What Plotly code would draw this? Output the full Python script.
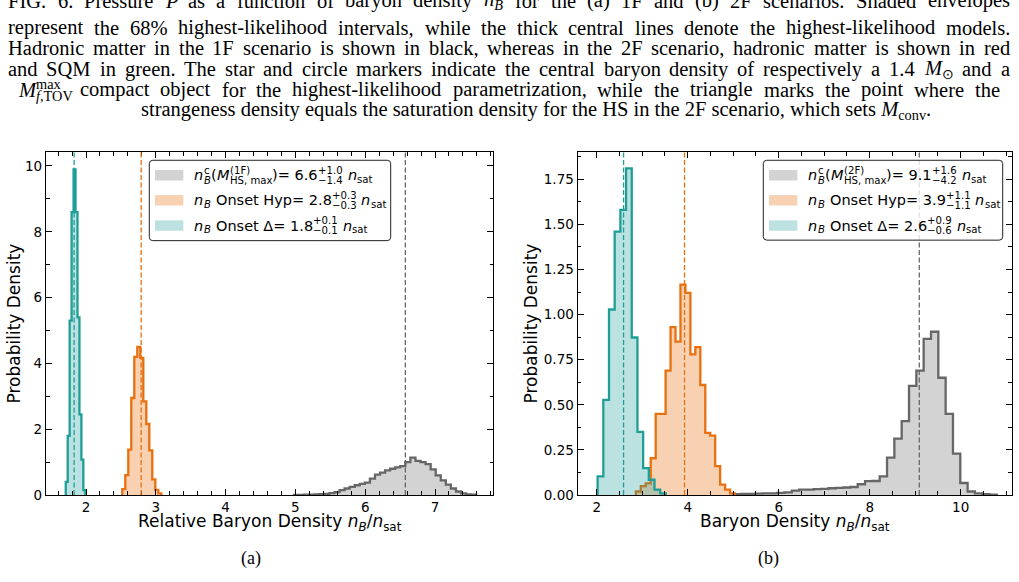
import re
import numpy as np
import plotly.graph_objects as go

W, H = 1019, 582

# ---------------- data: panel (a) 1F scenario ----------------
a_hs_bin_start, a_hs_bin_width = 4.98, 0.0725
a_hs_density = [0.005, 0.008, 0.01, 0.015, 0.02, 0.03, 0.04, 0.06, 0.09, 0.15,
                0.2, 0.25, 0.3, 0.34, 0.38, 0.5, 0.62, 0.68, 0.75, 0.8,
                0.84, 0.88, 1.0, 1.14, 1.04, 1.0, 0.94, 0.78, 0.6, 0.45,
                0.32, 0.2, 0.11, 0.05, 0.02, 0.01]
a_hyp_bin_start, a_hyp_bin_width = 2.52, 0.043
a_hyp_density = [0.18, 0.61, 1.38, 2.95, 4.2, 4.5, 4.17, 2.85, 2.16, 1.36, 0.48, 0.16, 0.05]
a_delta_bin_start, a_delta_bin_width = 1.71, 0.028
a_delta_density = [0.4, 1.8, 5.3, 8.6, 9.9, 8.6, 5.4, 2.45, 1.08, 0.15]
a_median_hs, a_median_hyp, a_median_delta = 6.575, 2.79, 1.83

# ---------------- data: panel (b) 2F scenario ----------------
b_hs_bin_start, b_hs_bin_width = 5.0, 0.161
b_hs_density = [0.005, 0.006, 0.007, 0.008, 0.01, 0.01, 0.012, 0.015, 0.025, 0.03,
                0.03, 0.033, 0.035, 0.038, 0.04, 0.042, 0.045, 0.06, 0.077, 0.078,
                0.104, 0.208, 0.313, 0.41, 0.605, 0.69, 0.865, 0.905, 0.65, 0.45,
                0.23, 0.067, 0.02, 0.01, 0.005, 0.002]
b_hyp_bin_start, b_hyp_bin_width = 2.86, 0.109
b_hyp_density = [0.02, 0.05, 0.065, 0.204, 0.45, 0.45, 0.69, 0.93, 0.85, 1.166,
                 1.12, 0.78, 0.82, 0.61, 0.345, 0.33, 0.16, 0.058, 0.03, 0.01]
b_delta_bin_start, b_delta_bin_width = 2.02, 0.125
b_delta_density = [0.104, 0.528, 1.028, 1.46, 1.58, 1.81, 0.873, 0.35, 0.149, 0.085, 0.03, 0.01]
b_median_hs, b_median_hyp, b_median_delta = 9.09, 3.93, 2.59

a_x_ticks = [2, 3, 4, 5, 6, 7]
a_y_ticks = [0, 2, 4, 6, 8, 10]
b_x_ticks = [2, 4, 6, 8, 10]
b_y_ticks = [0.0, 0.25, 0.5, 0.75, 1.0, 1.25, 1.5, 1.75]

a_legend_values = [("6.6", "+1.0", "−1.4"), ("2.8", "+0.3", "−0.3"), ("1.8", "+0.1", "−0.1")]
b_legend_values = [("9.1", "+1.6", "−4.2"), ("3.9", "+1.1", "−1.1"), ("2.6", "+0.9", "−0.6")]

# ---------------- styles ----------------
GRAY_LINE, GRAY_FILL = "#666666", "rgba(128,128,128,0.35)"
ORNG_LINE, ORNG_FILL = "#e8700f", "rgba(232,112,15,0.32)"
TEAL_LINE, TEAL_FILL = "#1f9e98", "rgba(31,158,152,0.3)"
SANS = "DejaVu Sans"
SERIF = "Liberation Serif"


def step_xy(start, width, dens):
    edges = start + width * np.arange(len(dens) + 1)
    x = np.concatenate([[edges[0]], edges])
    y = np.concatenate([[0.0], np.asarray(dens, float), [0.0]])
    return x, y


fig = go.Figure()

panels = [
    ("x", "y", [(a_hs_bin_start, a_hs_bin_width, a_hs_density, GRAY_LINE, GRAY_FILL),
                (a_hyp_bin_start, a_hyp_bin_width, a_hyp_density, ORNG_LINE, ORNG_FILL),
                (a_delta_bin_start, a_delta_bin_width, a_delta_density, TEAL_LINE, TEAL_FILL)],
     [(a_median_hs, GRAY_LINE), (a_median_hyp, ORNG_LINE), (a_median_delta, TEAL_LINE)]),
    ("x2", "y2", [(b_hs_bin_start, b_hs_bin_width, b_hs_density, GRAY_LINE, GRAY_FILL),
                  (b_hyp_bin_start, b_hyp_bin_width, b_hyp_density, ORNG_LINE, ORNG_FILL),
                  (b_delta_bin_start, b_delta_bin_width, b_delta_density, TEAL_LINE, TEAL_FILL)],
     [(b_median_hs, GRAY_LINE), (b_median_hyp, ORNG_LINE), (b_median_delta, TEAL_LINE)]),
]

shapes = []
for xa, ya, hists, meds in panels:
    for start, width, dens, lc, fc in hists:
        x, y = step_xy(start, width, dens)
        fig.add_trace(go.Scatter(x=x, y=y, xaxis=xa, yaxis=ya, mode="lines",
                                 line=dict(color=lc, width=2.3, shape="hv"),
                                 fill="tozeroy", fillcolor=fc, hoverinfo="skip",
                                 showlegend=False))
    for m, c in meds:
        shapes.append(dict(type="line", xref=xa, yref=ya + " domain", x0=m, x1=m, y0=0, y1=1,
                           line=dict(color=c, width=1.3, dash="5px,2.5px")))


def P(x, y):
    return x / W, 1 - y / H


annotations = []


def ann(x, y, text, size, family=SANS, xanchor="left", yanchor="middle", angle=0):
    xp, yp = P(x, y)
    annotations.append(dict(x=xp, y=yp, xref="paper", yref="paper", text=text,
                            showarrow=False, xanchor=xanchor, yanchor=yanchor,
                            font=dict(family=family, size=size, color="black"),
                            borderpad=0, borderwidth=0, textangle=angle))


# DejaVu Sans advance widths (units per 2048 em)
CW = {' ': 651, '(': 799, ')': 799, '+': 1716, ',': 651, '-': 739, '.': 651, '/': 690,
      '=': 1716, 'B': 1405, 'D': 1577, 'F': 1178, 'H': 1540, 'M': 1767, 'O': 1612,
      'S': 1300, 'a': 1255, 'c': 1126, 'e': 1260, 'm': 1995, 'n': 1298, 'p': 1300,
      's': 1067, 't': 803, 'x': 1212, 'y': 1212, 'Δ': 1405, '−': 1716}
for d in "0123456789":
    CW[d] = 1303


def sw(s, size):
    return sum(CW.get(c, 1250) for c in s) / 2048 * size


SUP_DY, SUB_DY, NSUB_DY = -5.0, 5.2, 4.0


def legend_row(x0, yc, items, fs):
    ss = fs * 0.7
    x = x0
    for it in items:
        k = it[0]
        if k == "m":
            t = it[1]
            ann(x, yc, "<i>%s</i>" % t if it[2] else t, fs)
            x += sw(t, fs)
        elif k == "sub":
            t = it[1]
            ann(x + 0.5, yc + NSUB_DY, "<i>%s</i>" % t if it[2] else t, ss)
            x += sw(t, ss) + 0.5
        elif k == "stack":
            sup, sub = it[1], it[2]
            ann(x + 0.5, yc + SUP_DY, "<i>%s</i>" % sup if it[3] else sup, ss)
            ann(x + 0.5, yc + SUB_DY, "<i>%s</i>" % sub if it[4] else sub, ss)
            x += max(sw(sup, ss), sw(sub, ss)) + 0.5
        elif k == "gap":
            x += it[1] * fs


def rrect(x0, y0, x1, y1, r):
    def p(x, y):
        a, b = P(x, y)
        return "%.6f,%.6f" % (a, b)
    return ("M %s L %s Q %s %s L %s Q %s %s L %s Q %s %s L %s Q %s %s Z" % (
        p(x0 + r, y0), p(x1 - r, y0), p(x1, y0), p(x1, y0 + r), p(x1, y1 - r),
        p(x1, y1), p(x1 - r, y1), p(x0 + r, y1), p(x0, y1), p(x0, y1 - r),
        p(x0, y0 + r), p(x0, y0), p(x0 + r, y0)))


def draw_legend(bx0, by0, bx1, by1, tag, vals):
    shapes.append(dict(type="path", xref="paper", yref="paper", path=rrect(bx0, by0, bx1, by1, 3.5),
                       fillcolor="rgba(255,255,255,0.8)", line=dict(color="#222222", width=1)))
    rows = [by0 + 15.2, by0 + 40.6, by0 + 66.2]
    fills = [GRAY_FILL, ORNG_FILL, TEAL_FILL]
    fs = 14.5
    for yc, fc in zip(rows, fills):
        a0, b0 = P(bx0 + 5.7, yc - 5.3)
        a1, b1 = P(bx0 + 34.0, yc + 5.3)
        shapes.append(dict(type="rect", xref="paper", yref="paper", x0=a0, x1=a1, y0=b0, y1=b1,
                           fillcolor=fc, line=dict(width=0)))
    tx = bx0 + 45.0
    v = vals[0]
    legend_row(tx, rows[0], [("m", "n", 1), ("stack", "c", "B", 0, 1), ("m", "(", 0), ("m", "M", 1),
                             ("stack", tag, "HS, max", 0, 0), ("m", ")= " + v[0], 0),
                             ("stack", v[1], v[2], 0, 0), ("gap", 0.32), ("m", "n", 1),
                             ("sub", "sat", 0)], fs)
    v = vals[1]
    legend_row(tx, rows[1], [("m", "n", 1), ("sub", "B", 1), ("gap", 0.32),
                             ("m", "Onset Hyp= " + v[0], 0), ("stack", v[1], v[2], 0, 0),
                             ("gap", 0.32), ("m", "n", 1), ("sub", "sat", 0)], fs)
    v = vals[2]
    legend_row(tx, rows[2], [("m", "n", 1), ("sub", "B", 1), ("gap", 0.32),
                             ("m", "Onset Δ= " + v[0], 0), ("stack", v[1], v[2], 0, 0),
                             ("gap", 0.32), ("m", "n", 1), ("sub", "sat", 0)], fs)


draw_legend(149.3, 162.5, 390.7, 244.0, "(1F)", a_legend_values)
draw_legend(763.3, 162.5, 1002.7, 243.5, "(2F)", b_legend_values)

# axis titles
NB = "<i>n</i><sub><i>B</i></sub>/<i>n</i><sub>sat</sub>"
ann(269.5, 530, "Relative Baryon Density " + NB, 17, xanchor="center")
ann(795, 530, "Baryon Density " + NB, 17, xanchor="center")
ann(14, 328, "Probability Density", 17, xanchor="center", angle=-90)
ann(531, 328, "Probability Density", 17, xanchor="center", angle=-90)
ann(251, 566, "(a)", 18, family=SERIF, xanchor="center")
ann(768, 566, "(b)", 18, family=SERIF, xanchor="center")

# ---------------- caption (justified, Times metrics) ----------------
TW = {'a': 444, 'b': 500, 'c': 444, 'd': 500, 'e': 444, 'f': 333, 'g': 500, 'h': 500,
      'i': 278, 'j': 278, 'k': 500, 'l': 278, 'm': 778, 'n': 500, 'o': 500, 'p': 500,
      'q': 500, 'r': 333, 's': 389, 't': 278, 'u': 500, 'v': 500, 'w': 722, 'x': 500,
      'y': 500, 'z': 444, 'A': 722, 'B': 667, 'C': 667, 'D': 722, 'E': 611, 'F': 556,
      'G': 722, 'H': 722, 'I': 333, 'J': 389, 'K': 722, 'L': 611, 'M': 889, 'N': 722,
      'O': 722, 'P': 556, 'Q': 722, 'R': 667, 'S': 556, 'T': 611, 'U': 722, 'V': 722,
      'W': 944, 'X': 722, 'Y': 722, 'Z': 611, ' ': 250, ',': 250, '.': 250, '-': 333,
      '%': 833, '(': 333, ')': 333, '⊙': 800}
for d in "0123456789":
    TW[d] = 500


def tw(html, size):
    total, scale, st = 0.0, 1.0, []
    for t in re.split(r"(<[^>]+>)", html):
        if t.startswith("<"):
            if t in ("<sub>", "<sup>"):
                st.append(scale)
                scale *= 0.7
            elif t in ("</sub>", "</sup>"):
                scale = st.pop()
            continue
        for c in t:
            total += TW.get(c, 500) * scale
    return total / 1000 * size


CAP_FS = 20.5


def justify(line, x0, x1, yc):
    words = line.split(" ")
    ws = [tw(w, CAP_FS) for w in words]
    gap = (x1 - x0 - sum(ws)) / max(len(words) - 1, 1)
    gap = max(gap, 0.2 * CAP_FS)
    x = x0
    for w, wd in zip(words, ws):
        ann(x, yc, w, CAP_FS, family=SERIF)
        x += wd + gap


cap = [
    "FIG. 6. Pressure <i>P</i> as a function of baryon density <i>n</i><sub><i>B</i></sub> for the (a) 1F and (b) 2F scenarios. Shaded envelopes",
    "represent the 68% highest-likelihood intervals, while the thick central lines denote the highest-likelihood models.",
    "Hadronic matter in the 1F scenario is shown in black, whereas in the 2F scenario, hadronic matter is shown in red",
    "and SQM in green. The star and circle markers indicate the central baryon density of respectively a 1.4 <i>M</i><sub>⊙</sub> and a",
]
cap_y = [1, 28, 49, 70]
for line, yc in zip(cap, cap_y):
    justify(line, 8, 1010, yc)

# line with stacked M^max_{f,TOV}
ann(18, 91, "<i>M</i>", CAP_FS, family=SERIF)
ann(36, 85, "max", CAP_FS * 0.7, family=SERIF)
ann(36, 97, "<i>f</i>,TOV", CAP_FS * 0.7, family=SERIF)
justify("compact object for the highest-likelihood parametrization, while the triangle marks the point where the",
        80, 1000, 91)
ann(536, 112, "strangeness density equals the saturation density for the HS in the 2F scenario, which sets <i>M</i><sub>conv</sub>.",
    CAP_FS, family=SERIF, xanchor="center")

# ---------------- axes ----------------
def axis_common(**kw):
    d = dict(showgrid=False, zeroline=False, showline=True, linecolor="black", linewidth=1.3,
             mirror="allticks", ticks="inside", ticklen=6, tickwidth=1.2, tickcolor="black",
             tickfont=dict(family=SANS, size=13.5, color="black"))
    d.update(kw)
    return d


ydom = [1 - 502 / H, 1 - 154.3 / H]
fig.update_layout(
    width=W, height=H, margin=dict(l=0, r=0, t=0, b=0),
    paper_bgcolor="white", plot_bgcolor="white", showlegend=False,
    xaxis=axis_common(domain=[46 / W, 493.3 / W], range=[1.427, 7.835], anchor="y",
                      tickvals=a_x_ticks,
                      minor=dict(dtick=0.2, tick0=0, ticks="inside", ticklen=3.5, tickwidth=1, tickcolor="black")),
    yaxis=axis_common(domain=ydom, range=[0, 10.42], anchor="x", tickvals=a_y_ticks,
                      minor=dict(dtick=1, tick0=0, ticks="inside", ticklen=3.5, tickwidth=1, tickcolor="black")),
    xaxis2=axis_common(domain=[577.7 / W, 1011.7 / W], range=[1.582, 11.121], anchor="y2",
                       tickvals=b_x_ticks,
                       minor=dict(dtick=0.5, tick0=0, ticks="inside", ticklen=3.5, tickwidth=1, tickcolor="black")),
    yaxis2=axis_common(domain=ydom, range=[0, 1.8996], anchor="x2", tickvals=b_y_ticks, tickformat=".2f",
                       minor=dict(dtick=0.125, tick0=0, ticks="inside", ticklen=3.5, tickwidth=1, tickcolor="black")),
    shapes=shapes, annotations=annotations,
)

fig.write_html("out.html")
